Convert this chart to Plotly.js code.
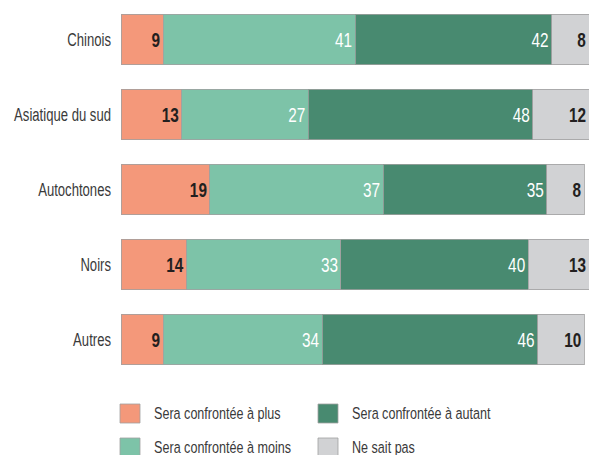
<!DOCTYPE html>
<html>
<head>
<meta charset="utf-8">
<script src="https://cdn.plot.ly/plotly-3.0.1.min.js"></script>
<style>html,body{margin:0;padding:0;background:#fff;}#chart{width:590px;height:455px;}</style>
</head>
<body>
<div id="chart"></div>
<script>
const categories = ['Chinois', 'Asiatique du sud', 'Autochtones', 'Noirs', 'Autres'];
const seriesNames = ['Sera confrontée à plus', 'Sera confrontée à moins', 'Sera confrontée à autant', 'Ne sait pas'];
const plusValues = [9, 13, 19, 14, 9];
const moinsValues = [41, 27, 37, 33, 34];
const autantValues = [42, 48, 35, 40, 46];
const nspValues = [8, 12, 8, 13, 10];

const seriesValues = [plusValues, moinsValues, autantValues, nspValues];
const colors = ['#F4987A', '#7DC3A8', '#488A70', '#D1D2D4'];
const textColors = ['#231F20', '#FFFFFF', '#FFFFFF', '#231F20'];
const textWeights = ['bold', 'normal', 'normal', 'bold'];
const FONT = '"Liberation Sans", Arial, sans-serif';

const traces = seriesValues.map((vals, i) => ({
  type: 'bar',
  orientation: 'h',
  name: seriesNames[i],
  y: categories,
  x: vals,
  text: vals.map(String),
  textposition: 'inside',
  insidetextanchor: 'end',
  textangle: 0,
  constraintext: 'none',
  textfont: {family: FONT, size: 21, color: textColors[i], weight: textWeights[i]},
  marker: {color: colors[i], line: {color: 'rgba(160,160,160,0.8)', width: 1}},
  showlegend: false,
  hoverinfo: 'x+y+name'
}));

// Legend drawn as shapes + annotations (pixel helpers)
const W = 590, H = 455, L = 121, R = 1, T = 2, B = 78;
const pw = W - L - R, ph = H - T - B;
const px = x => (x - L) / pw;
const py = y => (H - B - y) / ph;
const legendPos = [
  {x: 120, y: 404}, // plus
  {x: 120, y: 438}, // moins
  {x: 318, y: 404}, // autant
  {x: 318, y: 438}  // nsp
];
const shapes = [], annotations = [];
seriesNames.forEach((n, i) => {
  const p = legendPos[i];
  shapes.push({type: 'rect', xref: 'paper', yref: 'paper',
    x0: px(p.x), x1: px(p.x + 20), y0: py(p.y + 19), y1: py(p.y),
    fillcolor: colors[i], line: {color: 'rgba(160,160,160,0.8)', width: 1}});
  annotations.push({xref: 'paper', yref: 'paper', x: px(p.x + 32), y: py(p.y + 9.5),
    xanchor: 'left', yanchor: 'middle', showarrow: false, text: n,
    font: {family: FONT, size: 17, color: '#3A3A3A'}});
});

const layout = {
  width: W, height: H,
  margin: {l: L, r: R, t: T, b: B, pad: 0},
  barmode: 'stack',
  bargap: 0.333,
  paper_bgcolor: '#fff', plot_bgcolor: '#fff',
  font: {family: FONT, color: '#3A3A3A'},
  showlegend: false,
  xaxis: {range: [0, 100], visible: false, fixedrange: true},
  yaxis: {autorange: 'reversed', showgrid: false, zeroline: false, showline: false,
    ticks: '', ticklabelstandoff: 9, tickfont: {family: FONT, size: 19, color: '#3A3A3A'}, fixedrange: true},
  shapes: shapes,
  annotations: annotations
};

// Condense text horizontally (to mimic a condensed typeface), keeping a pivot edge fixed
function squeeze(sel, s, pivot) {
  document.querySelectorAll(sel).forEach(el => {
    const bb = el.getBBox();
    const p = pivot === 'left' ? bb.x : pivot === 'right' ? bb.x + bb.width : bb.x + bb.width / 2;
    const t = el.getAttribute('transform') || '';
    el.setAttribute('transform', t + ' translate(' + p + ',0) scale(' + s + ',1) translate(' + (-p) + ',0)');
  });
}

Plotly.newPlot('chart', traces, layout, {displayModeBar: false, staticPlot: true}).then(() => {
  squeeze('#chart .ytick text', 0.69, 'right');
  squeeze('#chart text.bartext', 0.73, 'right');
  squeeze('#chart text.annotation-text', 0.74, 'left');
});
</script>
</body>
</html>
